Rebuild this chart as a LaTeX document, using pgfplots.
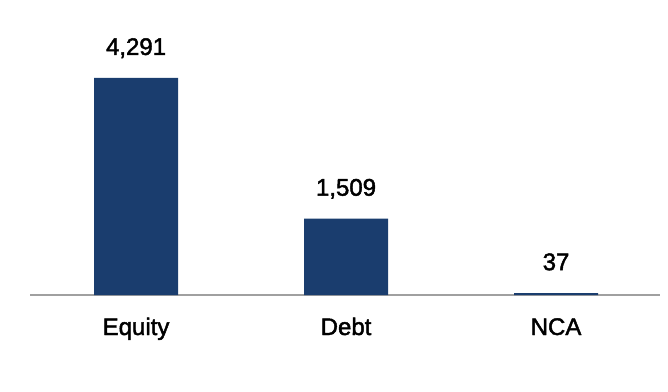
\documentclass[border=0pt]{standalone}
\usepackage{fontspec}
\setmainfont{Liberation Sans}
\usepackage{pgfplots}
\pgfplotsset{compat=1.18}
\definecolor{barblue}{HTML}{1A3D6E}
\definecolor{axgray}{HTML}{A0A0A0}
\newcommand\med[1]{\special{pdf:literal direct 2 Tr 0.45 w}#1\special{pdf:literal direct 0 Tr}}
\begin{document}
\begin{tikzpicture}[x=1bp,y=1bp]
\begin{axis}[
  scale only axis,
  width=630bp, height=295bp,
  at={(0,0)}, anchor=south west,
  xmin=-0.505, xmax=2.495,
  ymin=0, ymax=5833,
  axis y line=none,
  axis x line=bottom,
  x axis line style={-, color=axgray, line width=2bp},
  xtick={0,1,2},
  xticklabels={\med{Equity},\med{Debt},\med{NCA}},
  major tick length=0pt,
  xticklabel style={anchor=base, yshift=-40bp, font=\fontsize{24bp}{28bp}\selectfont},
  ybar, bar width=84bp,
  bar shift=0pt,
  point meta=explicit symbolic,
  nodes near coords={\med{\pgfplotspointmeta}},
  every node near coord/.style={anchor=base, yshift=23bp, font=\fontsize{24bp}{28bp}\selectfont, text=black},
  clip=false,
]
\addplot[fill=barblue, draw=none] coordinates {(0,4291) [4,291] (1,1509) [1,509] (2,37) [37]};
\end{axis}
\pgfresetboundingbox
\path (-30bp,-97bp) rectangle (638bp,295bp);
\end{tikzpicture}
\end{document}
